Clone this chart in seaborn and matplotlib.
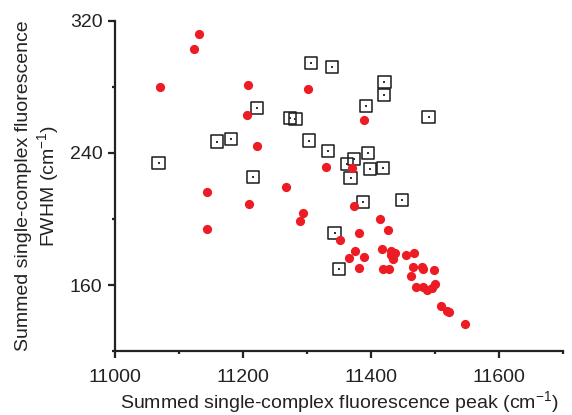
import matplotlib
matplotlib.use("Agg")
import matplotlib.pyplot as plt
import seaborn as sns
import pandas as pd
from matplotlib.ticker import MultipleLocator

# Red filled circles
red_peak = [11131, 11124, 11071, 11208, 11302, 11207, 11389, 11222, 11329, 11370,
            11267, 11143, 11210, 11374, 11293, 11289, 11414, 11143, 11427, 11382,
            11352, 11375, 11417, 11431, 11438, 11432, 11434, 11454, 11467, 11365,
            11389, 11382, 11419, 11428, 11465, 11479, 11481, 11499, 11462, 11470,
            11482, 11488, 11496, 11500, 11509, 11518, 11522, 11547]
red_fwhm = [312.1, 302.8, 280.2, 281.4, 278.6, 263.2, 259.8, 244.0, 231.7, 230.7,
            219.2, 216.2, 209.1, 207.9, 203.4, 198.8, 199.8, 194.0, 193.1, 191.7,
            187.5, 180.8, 181.6, 180.8, 179.2, 178.2, 175.6, 178.2, 179.6, 176.6,
            176.8, 170.5, 169.9, 169.9, 170.9, 171.1, 169.9, 168.9, 165.3, 158.6,
            158.8, 157.0, 158.4, 160.8, 147.3, 144.1, 143.5, 136.4]

# Open squares
sq_peak = [11068, 11159, 11181, 11222, 11216, 11274, 11282, 11306, 11339, 11303,
           11333, 11421, 11420, 11392, 11490, 11373, 11363, 11395, 11398, 11419,
           11368, 11388, 11448, 11343, 11350]
sq_fwhm = [234.0, 246.9, 248.5, 267.1, 225.6, 261.4, 260.6, 294.7, 291.9, 247.5,
           241.4, 283.2, 275.2, 268.5, 261.8, 236.2, 233.5, 240.2, 230.3, 230.7,
           225.0, 210.1, 211.5, 191.5, 169.5]

x_ticks = [11000, 11200, 11400, 11600]
y_ticks = [160, 240, 320]

sns.set_style("ticks")
plt.rcParams['font.family'] = ['Liberation Sans', 'DejaVu Sans']
plt.rcParams['mathtext.fontset'] = 'custom'
plt.rcParams['mathtext.rm'] = 'Liberation Sans'
plt.rcParams['mathtext.it'] = 'Liberation Sans'
plt.rcParams['mathtext.default'] = 'regular'

df_red = pd.DataFrame({"peak": red_peak, "fwhm": red_fwhm})
df_sq = pd.DataFrame({"peak": sq_peak, "fwhm": sq_fwhm})

fig = plt.figure(figsize=(5.72, 4.15), dpi=100)
ax = fig.add_axes([115/572, 1-351/415, (563-115)/572, (351-21)/415])

sns.scatterplot(data=df_sq, x="peak", y="fwhm", ax=ax, marker="s", s=78,
                facecolor="none", edgecolor="#1a1a1a", linewidth=1.1, zorder=2)
sns.scatterplot(data=df_sq, x="peak", y="fwhm", ax=ax, marker="s", s=1,
                color="#333333", linewidth=0, zorder=2)
sns.scatterplot(data=df_red, x="peak", y="fwhm", ax=ax, marker="o", s=44,
                color="#ED1C24", linewidth=0, zorder=3)

ax.set_xlim(11000, 11700)
ax.set_ylim(120, 320)
ax.set_xticks(x_ticks)
ax.set_yticks(y_ticks)
ax.xaxis.set_minor_locator(MultipleLocator(100))
ax.yaxis.set_minor_locator(MultipleLocator(40))
sns.despine(ax=ax)
for s in ["left", "bottom"]:
    ax.spines[s].set_linewidth(1.6)
    ax.spines[s].set_color("#222222")
ax.tick_params(which="major", length=5, width=1.6, labelsize=14, colors="#222222", pad=4)
ax.tick_params(which="minor", length=2.5, width=1.6, colors="#222222")
ax.tick_params(axis="x", which="major", pad=8)

ax.set_xlabel("Summed single-complex fluorescence peak (cm$^{-1}$)", fontsize=14,
              color="#222222", labelpad=2)
ax.set_ylabel("Summed single-complex fluorescence\nFWHM (cm$^{-1}$)", fontsize=14,
              color="#222222", labelpad=6, linespacing=1.2)

fig.savefig("out.png", dpi=100)
